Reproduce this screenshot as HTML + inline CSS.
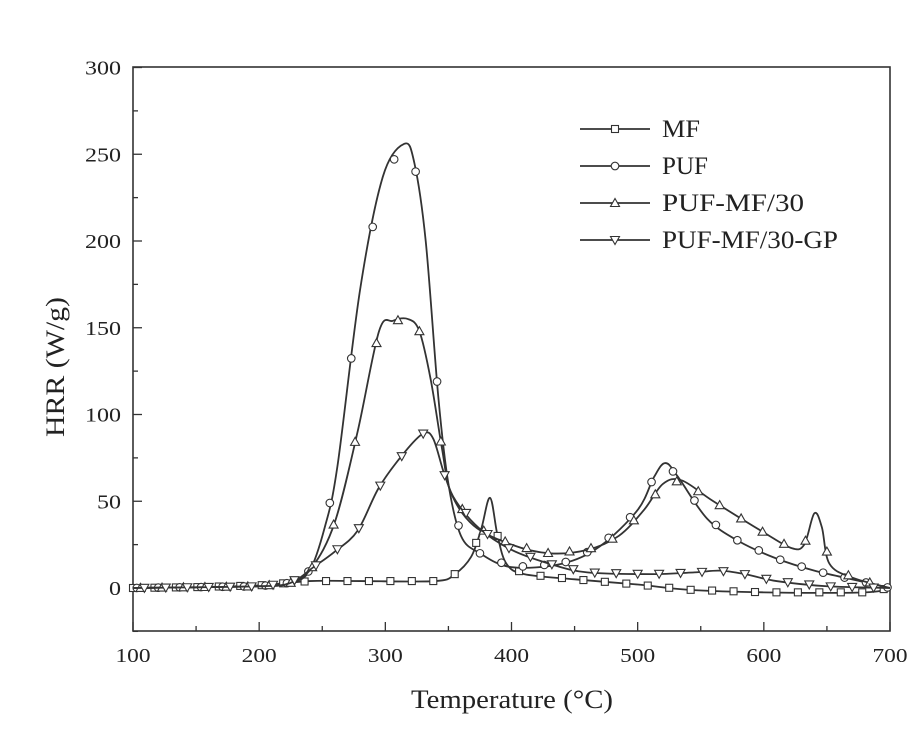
<!DOCTYPE html>
<html><head><meta charset="utf-8"><style>
body{margin:0;background:#fff}
svg text{font-family:"Liberation Serif",serif;fill:#222}
</style></head><body>
<svg id="s" width="909" height="726" xmlns="http://www.w3.org/2000/svg"></svg>
<script>
const s=document.getElementById('s');
const X=t=>133+(t-100)*757/600, Y=v=>588-v*1.735;
let h='<rect x="133" y="67" width="757" height="564" fill="none" stroke="#333" stroke-width="1.6"/>';
for(let t=100;t<=700;t+=50){const x=X(t),L=t%100==0?9:5;h+=`<line x1="${x}" y1="631" x2="${x}" y2="${631-L}" stroke="#333" stroke-width="1.3"/>`;
 if(t%100==0)h+=`<text x="${x}" y="662" font-size="20" text-anchor="middle" textLength="35" lengthAdjust="spacingAndGlyphs">${t}</text>`;}
for(let v=-25;v<=300;v+=25){const y=Y(v),L=v%50==0?9:5;h+=`<line x1="133" y1="${y}" x2="${133+L}" y2="${y}" stroke="#333" stroke-width="1.3"/>`;
 if(v%50==0&&v>=0){const w=String(v).length*12;h+=`<text x="121" y="${y+7}" font-size="20" text-anchor="end" textLength="${w}" lengthAdjust="spacingAndGlyphs">${v}</text>`;}}
h+=`<text x="411" y="708" font-size="26" textLength="202" lengthAdjust="spacingAndGlyphs">Temperature (°C)</text>`;
h+=`<text transform="translate(64,437) rotate(-90)" font-size="26" textLength="140" lengthAdjust="spacingAndGlyphs">HRR (W/g)</text>`;
function cr(pts){const P=pts.map(p=>[X(p[0]),Y(p[1])]);let d=`M${P[0][0]},${P[0][1]}`;
 for(let i=0;i<P.length-1;i++){const p0=P[i-1]||P[i],p1=P[i],p2=P[i+1],p3=P[i+2]||p2;
 d+=` C${p1[0]+(p2[0]-p0[0])/6},${p1[1]+(p2[1]-p0[1])/6} ${p2[0]-(p3[0]-p1[0])/6},${p2[1]-(p3[1]-p1[1])/6} ${p2[0]},${p2[1]}`;}return d;}
function interp(pts,t){for(let i=0;i<pts.length-1;i++)if(t>=pts[i][0]&&t<=pts[i+1][0]){const a=pts[i],b=pts[i+1];return a[1]+(b[1]-a[1])*(t-a[0])/(b[0]-a[0]);}return 0;}
function mk(type,x,y){if(type=='s')return `<rect x="${x-3.5}" y="${y-3.5}" width="7" height="7" fill="#fff" stroke="#333" stroke-width="1.1"/>`;
 if(type=='c')return `<circle cx="${x}" cy="${y}" r="3.8" fill="#fff" stroke="#333" stroke-width="1.1"/>`;
 if(type=='t')return `<polygon points="${x},${y-4.5} ${x-4.5},${y+3.5} ${x+4.5},${y+3.5}" fill="#fff" stroke="#333" stroke-width="1.1"/>`;
 return `<polygon points="${x},${y+4.5} ${x-4.5},${y-3.5} ${x+4.5},${y-3.5}" fill="#fff" stroke="#333" stroke-width="1.1"/>`;}
const series=[
['s',[[100,0],[150,0.5],[200,1.5],[240,4],[280,4],[340,4],[355,8],[368,18],[376,34],[383,52],[389,30],[396,14],[410,8],[450,5],[500,2],[540,-1],[600,-2.5],[680,-2.5],[700,0]],0],
['c',[[100,0],[200,1],[225,3],[240,10],[252,35],[262,70],[280,172],[298,237],[315,256],[323,245],[332,200],[342,110],[350,60],[360,30],[375,20],[400,12],[440,14],[470,24],[500,45],[513,64],[522,72],[532,64],[555,40],[580,27],[610,17],[640,10],[670,5],[700,0]],3],
['t',[[100,0],[200,1],[225,3],[242,12],[260,38],[278,90],[295,148],[306,154],[318,155],[327,148],[336,120],[345,80],[352,55],[370,36],[400,25],[430,20],[460,22],[485,30],[505,45],[520,60],[535,62],[560,50],[600,32],[622,23],[632,25],[640,43],[646,35],[652,14],[670,6],[700,0]],6],
['v',[[100,0],[200,1],[225,3],[243,12],[260,21],[278,33],[295,58],[315,78],[330,89],[338,86],[347,65],[356,50],[375,34],[400,22],[430,14],[460,9],[510,8],[545,9],[565,10],[585,8],[610,4],[650,1],[700,0]],9]];
for(const [m,pts,off] of series){h+=`<path d="${cr(pts)}" fill="none" stroke="#333" stroke-width="1.8"/>`;
 for(let t=100+off;t<700;t+=17){const v=interp(pts,t);h+=mk(m,X(t),Y(v));}}
const leg=[['s','MF',38],['c','PUF',46],['t','PUF-MF/30',142],['v','PUF-MF/30-GP',176]];
leg.forEach((l,i)=>{const y=129+i*37;h+=`<line x1="580" y1="${y}" x2="650" y2="${y}" stroke="#333" stroke-width="1.8"/>`+mk(l[0],615,y)+`<text x="662" y="${y+8}" font-size="25" textLength="${l[2]}" lengthAdjust="spacingAndGlyphs">${l[1]}</text>`;});
s.innerHTML=h;
</script>
</body></html>
